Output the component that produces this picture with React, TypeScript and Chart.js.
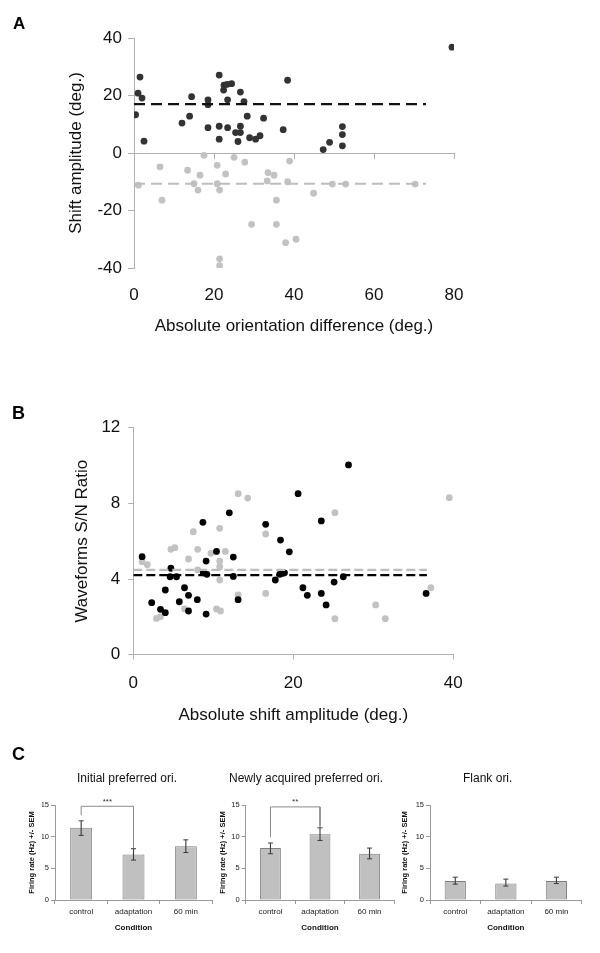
import React, { useEffect, useRef } from 'react';
import { Chart, registerables } from 'chart.js';

Chart.register(...registerables);

const FONT = "'Liberation Sans', Arial, Helvetica, sans-serif";
const AXIS_GRAY = '#b0b0b0';
const TEXT = '#111111';

// ---------------- Panel A ----------------
const aTitleX = 'Absolute orientation difference (deg.)';
const aTitleY = 'Shift amplitude (deg.)';
const aDarkX = [79.5, 1.5, 1.0, 2.0, 0.4, 2.5, 14.4, 12.0, 13.9, 18.5, 18.5, 18.5, 21.3, 21.3, 21.3, 22.5, 23.3, 24.4, 22.4, 23.4, 23.4, 25.4, 26.6, 26.6, 26.0, 26.6, 27.5, 28.3, 28.9, 30.4, 31.5, 32.4, 37.3, 38.4, 47.3, 48.9, 52.1, 52.1, 52.1];
const aDarkY = [36.8, 26.4, 20.8, 19.1, 13.3, 4.1, 19.6, 10.4, 12.8, 18.5, 16.8, 8.8, 27.1, 9.3, 4.8, 23.6, 23.9, 24.1, 21.9, 18.5, 8.8, 7.1, 7.1, 9.3, 4.0, 21.2, 17.9, 12.8, 5.3, 4.8, 6.0, 12.1, 8.1, 25.3, 1.2, 3.7, 9.2, 6.4, 2.5];
const aGrayX = [1.1, 6.5, 7.0, 13.4, 15.0, 16.0, 16.5, 17.5, 20.8, 20.8, 21.4, 21.4, 21.4, 22.9, 25.0, 27.7, 29.4, 33.3, 33.5, 35.0, 35.6, 35.6, 37.9, 38.4, 38.9, 40.5, 44.9, 49.6, 52.9, 70.3];
const aGrayY = [-11.2, -4.8, -16.4, -6.0, -10.7, -12.9, -7.7, -0.8, -4.3, -10.7, -12.9, -36.8, -39.2, -7.3, -1.5, -3.2, -24.8, -9.7, -6.8, -7.7, -16.4, -24.8, -31.2, -10.0, -2.8, -30.0, -14.0, -10.8, -10.8, -10.8];
const aMeanSpan = [0, 73];
const aDarkMean = 17.0;
const aGrayMean = -10.7;
const aXRange = [0, 80, 20];
const aYRange = [-40, 40, 20];

// ---------------- Panel B ----------------
const bTitleX = 'Absolute shift amplitude (deg.)';
const bTitleY = 'Waveforms S/N Ratio';
const bBlackX = [1.1, 4.7, 4.6, 5.4, 2.3, 3.4, 4.0, 4.0, 6.4, 6.9, 5.75, 6.9, 8.0, 9.1, 8.7, 9.1, 8.75, 9.2, 10.4, 12.0, 12.5, 12.5, 13.1, 16.55, 18.4, 19.5, 17.75, 18.3, 18.6, 18.9, 20.6, 21.2, 21.75, 26.9, 23.5, 26.25, 25.1, 23.5, 24.1, 36.6];
const bBlackY = [5.18, 4.57, 4.12, 4.12, 2.75, 2.40, 2.22, 3.42, 3.54, 3.14, 2.80, 2.31, 2.91, 2.15, 7.0, 4.95, 4.33, 4.25, 5.46, 7.5, 5.16, 4.14, 2.91, 6.89, 6.06, 5.44, 3.95, 4.25, 4.30, 4.33, 8.51, 3.54, 3.14, 10.03, 7.07, 4.12, 3.84, 3.24, 2.63, 3.24];
const bGrayX = [1.1, 1.75, 2.9, 3.4, 4.7, 5.2, 6.9, 6.4, 7.5, 8.05, 8.05, 9.7, 10.8, 10.8, 10.8, 11.5, 10.8, 10.4, 10.9, 13.1, 14.3, 13.1, 16.55, 16.55, 25.2, 25.2, 30.3, 31.5, 37.2, 39.5];
const bGrayY = [4.92, 4.76, 1.92, 2.01, 5.57, 5.66, 5.06, 2.42, 6.5, 5.57, 4.48, 5.36, 6.68, 4.95, 4.65, 5.46, 3.95, 2.42, 2.31, 8.51, 8.28, 3.16, 6.38, 3.24, 7.51, 1.90, 2.63, 1.90, 3.54, 8.30];
const bMeanSpan = [0, 36.7];
const bBlackMean = 4.21;
const bGrayMean = 4.48;
const bXRange = [0, 40, 20];
const bYRange = [0, 12, 4];

// ---------------- Panel C ----------------
const cCategories = ['control', 'adaptation', '60 min'];
const cTitleX = 'Condition';
const cTitleY = 'Firing rate (Hz) +/- SEM';
const cYRange = [0, 15, 5];
const c1Title = 'Initial preferred ori.';
const c1Mean = [11.4, 7.2, 8.5];
const c1Lo = [10.2, 6.3, 7.5];
const c1Hi = [12.5, 8.1, 9.5];
const c1BracketCats = ['control', 'control', 'adaptation', 'adaptation'];
const c1BracketY = [13.4, 14.8, 14.8, 8.3];
const c1Sig = '***';
const c2Title = 'Newly acquired preferred ori.';
const c2Mean = [8.2, 10.4, 7.3];
const c2Lo = [7.3, 9.4, 6.5];
const c2Hi = [9.0, 11.4, 8.2];
const c2BracketCats = ['control', 'control', 'adaptation', 'adaptation'];
const c2BracketY = [9.9, 14.7, 14.7, 11.6];
const c2Sig = '**';
const c3Title = 'Flank ori.';
const c3Mean = [3.0, 2.6, 3.0];
const c3Lo = [2.5, 2.2, 2.6];
const c3Hi = [3.6, 3.3, 3.6];

const pts = (xs: number[], ys: number[]) => xs.map((x, i) => ({ x, y: ys[i] }));
const hline = (span: number[], y: number) => span.map((x) => ({ x, y }));

const sigPlugin = {
  id: 'sigLabel',
  afterDatasetsDraw(chart: any) {
    chart.data.datasets.forEach((ds: any, i: number) => {
      if (!ds.isBracket) return;
      const meta = chart.getDatasetMeta(i);
      const p1 = meta.data[1];
      const p2 = meta.data[2];
      if (!p1 || !p2) return;
      const ctx = chart.ctx;
      ctx.save();
      ctx.font = `8px ${FONT}`;
      ctx.fillStyle = '#333';
      ctx.textAlign = 'center';
      ctx.textBaseline = 'alphabetic';
      ctx.fillText(ds.label, (p1.x + p2.x) / 2, p1.y - 2.5);
      ctx.restore();
    });
  },
};

function configA() {
  const tickFont = { family: FONT, size: 17 };
  return {
    type: 'scatter',
    data: {
      datasets: [
        { type: 'line', label: 'mean dark', data: hline(aMeanSpan, aDarkMean), borderColor: '#111', borderWidth: 2.4, borderDash: [11, 6], pointRadius: 0, order: 0 },
        { type: 'line', label: 'mean gray', data: hline(aMeanSpan, aGrayMean), borderColor: '#bdbdbd', borderWidth: 2.2, borderDash: [11, 6], pointRadius: 0, order: 0 },
        { label: 'dark', data: pts(aDarkX, aDarkY), backgroundColor: '#333333', borderWidth: 0, pointRadius: 3.4, order: 1 },
        { label: 'gray', data: pts(aGrayX, aGrayY), backgroundColor: '#c2c2c2', borderWidth: 0, pointRadius: 3.4, order: 2 },
      ],
    },
    options: {
      responsive: false,
      animation: false,
      events: [],
      layout: { padding: { left: 0, right: 146, top: 38, bottom: 4.1 } },
      plugins: { legend: { display: false }, tooltip: { enabled: false } },
      scales: {
        x: {
          type: 'linear', position: 'bottom', min: aXRange[0], max: aXRange[1],
          ticks: { stepSize: aXRange[2], padding: 16.8, color: TEXT, font: tickFont, maxRotation: 0 },
          grid: { display: false, drawTicks: false },
          border: { display: false },
          title: { display: true, text: aTitleX, color: TEXT, font: tickFont, padding: { top: 0, bottom: 4 } },
          afterFit: (s: any) => { s.height = 72.9; },
        },
        x0: {
          type: 'linear', axis: 'x', position: { y: 0 }, min: aXRange[0], max: aXRange[1],
          ticks: { stepSize: aXRange[2], display: false },
          grid: { display: true, drawOnChartArea: false, drawTicks: true, tickLength: 5, color: AXIS_GRAY },
          border: { display: true, color: AXIS_GRAY },
          afterFit: (s: any) => { s.height = 0; },
        },
        y: {
          type: 'linear', min: aYRange[0], max: aYRange[1],
          ticks: { stepSize: aYRange[2], padding: 6, color: TEXT, font: tickFont },
          grid: { drawOnChartArea: false, drawTicks: true, tickLength: 6, color: AXIS_GRAY },
          border: { color: AXIS_GRAY },
          title: { display: true, text: aTitleY, color: TEXT, font: tickFont, padding: { top: 65.8, bottom: 0 } },
          afterFit: (s: any) => { s.width = 134; },
        },
      },
    },
  };
}

function configB() {
  const tickFont = { family: FONT, size: 17 };
  return {
    type: 'scatter',
    data: {
      datasets: [
        { type: 'line', label: 'mean black', data: hline(bMeanSpan, bBlackMean), borderColor: '#000', borderWidth: 2.2, borderDash: [9, 4], pointRadius: 0, order: 0 },
        { type: 'line', label: 'mean gray', data: hline(bMeanSpan, bGrayMean), borderColor: '#bdbdbd', borderWidth: 2.2, borderDash: [9, 4], pointRadius: 0, order: 0 },
        { label: 'black', data: pts(bBlackX, bBlackY), backgroundColor: '#000000', borderWidth: 0, pointRadius: 3.4, order: 1 },
        { label: 'gray', data: pts(bGrayX, bGrayY), backgroundColor: '#c2c2c2', borderWidth: 0, pointRadius: 3.4, order: 2 },
      ],
    },
    options: {
      responsive: false,
      animation: false,
      events: [],
      layout: { padding: { left: 0, right: 146.7, top: 67.7, bottom: 10 } },
      plugins: { legend: { display: false }, tooltip: { enabled: false } },
      scales: {
        x: {
          type: 'linear', position: 'bottom', min: bXRange[0], max: bXRange[1],
          ticks: { stepSize: bXRange[2], padding: 13, color: TEXT, font: tickFont, maxRotation: 0 },
          grid: { display: true, drawOnChartArea: false, drawTicks: true, tickLength: 5, color: AXIS_GRAY },
          border: { display: true, color: AXIS_GRAY },
          title: { display: true, text: bTitleX, color: TEXT, font: tickFont, padding: { top: 0, bottom: 4 } },
          afterFit: (s: any) => { s.height = 75.3; },
        },
        y: {
          type: 'linear', min: bYRange[0], max: bYRange[1],
          ticks: { stepSize: bYRange[2], padding: 8, color: TEXT, font: tickFont },
          grid: { drawOnChartArea: false, drawTicks: true, tickLength: 5, color: AXIS_GRAY },
          border: { color: AXIS_GRAY },
          title: { display: true, text: bTitleY, color: TEXT, font: tickFont, padding: { top: 72.1, bottom: 0 } },
          afterFit: (s: any) => { s.width = 133.3; },
        },
      },
    },
  };
}

type CLayout = { padLeft: number; padRight: number; yWidth: number; yTitlePad: number };

function configC(title: string, mean: number[], lo: number[], hi: number[], lay: CLayout, bracketCats?: string[], bracketY?: number[], sig?: string) {
  const tickFont = { family: FONT, size: 7.5 };
  const datasets: any[] = [
    { type: 'bar', label: 'mean', data: mean, backgroundColor: '#c0c0c0', borderColor: '#808080', borderWidth: 1, borderSkipped: false, barPercentage: 0.42, categoryPercentage: 1, order: 3 },
    { type: 'bar', label: 'sem', data: lo.map((l, i) => [l, hi[i]]), backgroundColor: '#3a3a3a', borderWidth: 0, grouped: false, barPercentage: 0.05, categoryPercentage: 1, maxBarThickness: 1.1, order: 2 },
    {
      type: 'line', label: 'caps',
      data: [...cCategories.map((c, i) => ({ x: c, y: hi[i] })), ...cCategories.map((c, i) => ({ x: c, y: lo[i] }))],
      showLine: false, pointStyle: 'line', pointRadius: 2.5, pointBorderColor: '#3a3a3a', pointBorderWidth: 1, order: 1,
    },
  ];
  if (bracketCats && bracketY) {
    datasets.push({
      type: 'line', label: sig, isBracket: true,
      data: bracketCats.map((c, i) => ({ x: c, y: bracketY[i] })),
      borderColor: '#8a8a8a', borderWidth: 1, pointRadius: 0, tension: 0, order: 0,
    });
  }
  return {
    type: 'bar',
    data: { labels: cCategories, datasets },
    plugins: [sigPlugin],
    options: {
      responsive: false,
      animation: false,
      events: [],
      layout: { padding: { left: lay.padLeft, right: lay.padRight, top: 0, bottom: 20.6 } },
      plugins: {
        legend: { display: false },
        tooltip: { enabled: false },
        title: { display: true, text: title, color: TEXT, font: { family: FONT, size: 12, weight: 'normal' }, padding: { top: 11.8, bottom: 18.8 } },
      },
      scales: {
        x: {
          type: 'category',
          ticks: { padding: 3.2, color: '#222', font: { family: FONT, size: 8 }, maxRotation: 0, autoSkip: false },
          grid: { display: true, drawOnChartArea: false, drawTicks: true, tickLength: 4, color: '#9a9a9a' },
          border: { display: true, color: '#9a9a9a' },
          title: { display: true, text: cTitleX, color: TEXT, font: { family: FONT, size: 8, weight: 'bold' }, padding: { top: 0, bottom: 0 } },
          afterFit: (s: any) => { s.height = 32.4; },
        },
        y: {
          type: 'linear', min: cYRange[0], max: cYRange[1],
          ticks: { stepSize: cYRange[2], padding: 2, color: '#222', font: tickFont },
          grid: { drawOnChartArea: false, drawTicks: true, tickLength: 4, color: '#9a9a9a' },
          border: { color: '#9a9a9a' },
          title: { display: true, text: cTitleY, color: TEXT, font: { family: FONT, size: 7.5, weight: 'bold' }, padding: { top: lay.yTitlePad, bottom: 0 } },
          afterFit: (s: any) => { s.width = lay.yWidth; },
        },
      },
    },
  };
}

function ChartCanvas({ left, top, width, height, make }: { left: number; top: number; width: number; height: number; make: () => any }) {
  const ref = useRef<HTMLCanvasElement>(null);
  useEffect(() => {
    if (!ref.current) return;
    const chart = new Chart(ref.current, make());
    return () => chart.destroy();
  }, []);
  return (
    <canvas
      ref={ref}
      width={width}
      height={height}
      style={{ position: 'absolute', left, top, width, height }}
    />
  );
}

const panelLabel = (text: string, left: number, top: number, size: number) => (
  <div style={{ position: 'absolute', left, top, fontFamily: FONT, fontWeight: 'bold', fontSize: size, lineHeight: 'normal', color: '#000' }}>{text}</div>
);

export default function App() {
  return (
    <div style={{ position: 'absolute', left: 0, top: 0, width: 600, height: 953, background: '#ffffff', overflow: 'hidden' }}>
      <ChartCanvas left={0} top={0} width={600} height={345} make={configA} />
      <ChartCanvas left={0} top={360} width={600} height={380} make={configB} />
      <ChartCanvas left={0} top={760} width={220} height={193}
        make={() => configC(c1Title, c1Mean, c1Lo, c1Hi, { padLeft: 42, padRight: 8, yWidth: 13, yTitlePad: -14.5 }, c1BracketCats, c1BracketY, c1Sig)} />
      <ChartCanvas left={200} top={760} width={200} height={193}
        make={() => configC(c2Title, c2Mean, c2Lo, c2Hi, { padLeft: 17.7, padRight: 5.7, yWidth: 28, yTitlePad: 0.5 }, c2BracketCats, c2BracketY, c2Sig)} />
      <ChartCanvas left={390} top={760} width={210} height={193}
        make={() => configC(c3Title, c3Mean, c3Lo, c3Hi, { padLeft: 3.7, padRight: 18.3, yWidth: 36.3, yTitlePad: 6.8 })} />
      {panelLabel('A', 13, 14, 17)}
      {panelLabel('B', 12, 403, 18)}
      {panelLabel('C', 12, 744, 18)}
    </div>
  );
}
